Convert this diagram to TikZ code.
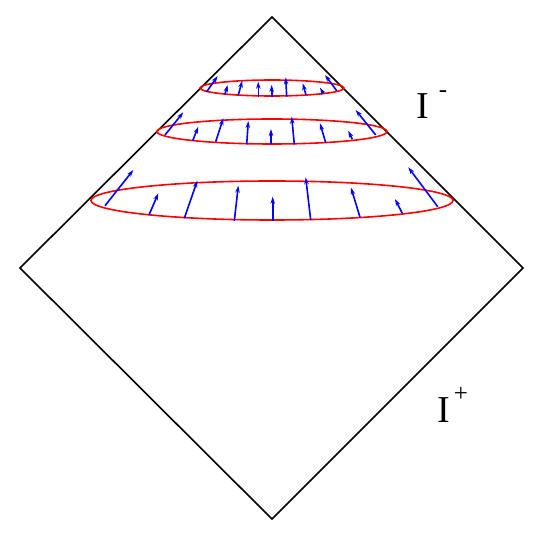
\documentclass[tikz,border=0pt]{standalone}
\usepackage{fontspec}
\setmainfont{Liberation Serif}
\usetikzlibrary{arrows.meta}
\tikzset{
  frame/.style={draw=black,line width=1.6pt,line join=miter},
  ring/.style={draw=red,line width=1.6pt},
  vec/.style={draw=blue,line width=1.6pt,-{Stealth[length=7pt,width=4.5pt]}},
  lbl/.style={inner sep=0pt,anchor=base west,font=\fontsize{38}{40}\selectfont}
}
\newcommand{\supmark}[3]{\hspace{#1}\raisebox{#3}{\fontsize{25}{25}\selectfont #2}}
\begin{document}
\begin{tikzpicture}[x=1pt,y=-1pt]
\useasboundingbox (0,0) rectangle (544,537);
\coordinate (T) at (272,17);
\coordinate (L) at (20,268);
\coordinate (R) at (523,268);
\coordinate (B) at (272,519);
\draw[frame] (T) -- (R) -- (B) -- (L) -- cycle;
% ellipses
\draw[ring] (272,88) ellipse [x radius=72, y radius=8];
\draw[ring] (272,131.5) ellipse [x radius=115, y radius=12.5];
\draw[ring] (272,200.5) ellipse [x radius=181, y radius=19.5];
% arrows big ellipse
\foreach \a/\b/\c/\d in {105/205.7/133.3/170, 149/215/158.3/193.3, 184.3/218.3/197.3/180.7, 234.3/221/238.3/185.7, 272.7/221/272.7/196.7, 310.7/220/305.7/177.3, 360/217.3/351/187.7, 402.3/213.3/395/199, 437.7/206.7/408.3/167.3}
  \draw[vec] (\a,\b) -- (\c,\d);
% arrows middle ellipse
\foreach \a/\b/\c/\d in {165/135/183.3/112.3, 192.7/140.7/198.3/126.7, 215.7/141.7/223.3/118.3, 246.7/144.3/248.3/121, 271/144.3/271/129, 294.3/144.3/291.7/116.7, 325.7/142.7/320/123.3, 352.3/139.3/348.3/130.7, 375.7/135/355.7/110}
  \draw[vec] (\a,\b) -- (\c,\d);
% arrows small ellipse
\foreach \a/\b/\c/\d in {206.7/91.7/217.7/76, 225/94/227.7/85, 238.3/95/242.3/80.7, 258.3/96.7/258.3/81.7, 271.7/96.7/271.7/85, 286.7/96.7/285.7/77.3, 306/95/302.7/83.3, 323.3/93.3/320/87.7, 336.7/90.7/325/75}
  \draw[vec] (\a,\b) -- (\c,\d);
\node[lbl] (scrim) at (416,119) {I\supmark{10pt}{-}{21pt}};
\node[lbl] (scrip) at (437,423) {I\supmark{4pt}{+}{21pt}};
\end{tikzpicture}
\end{document}
